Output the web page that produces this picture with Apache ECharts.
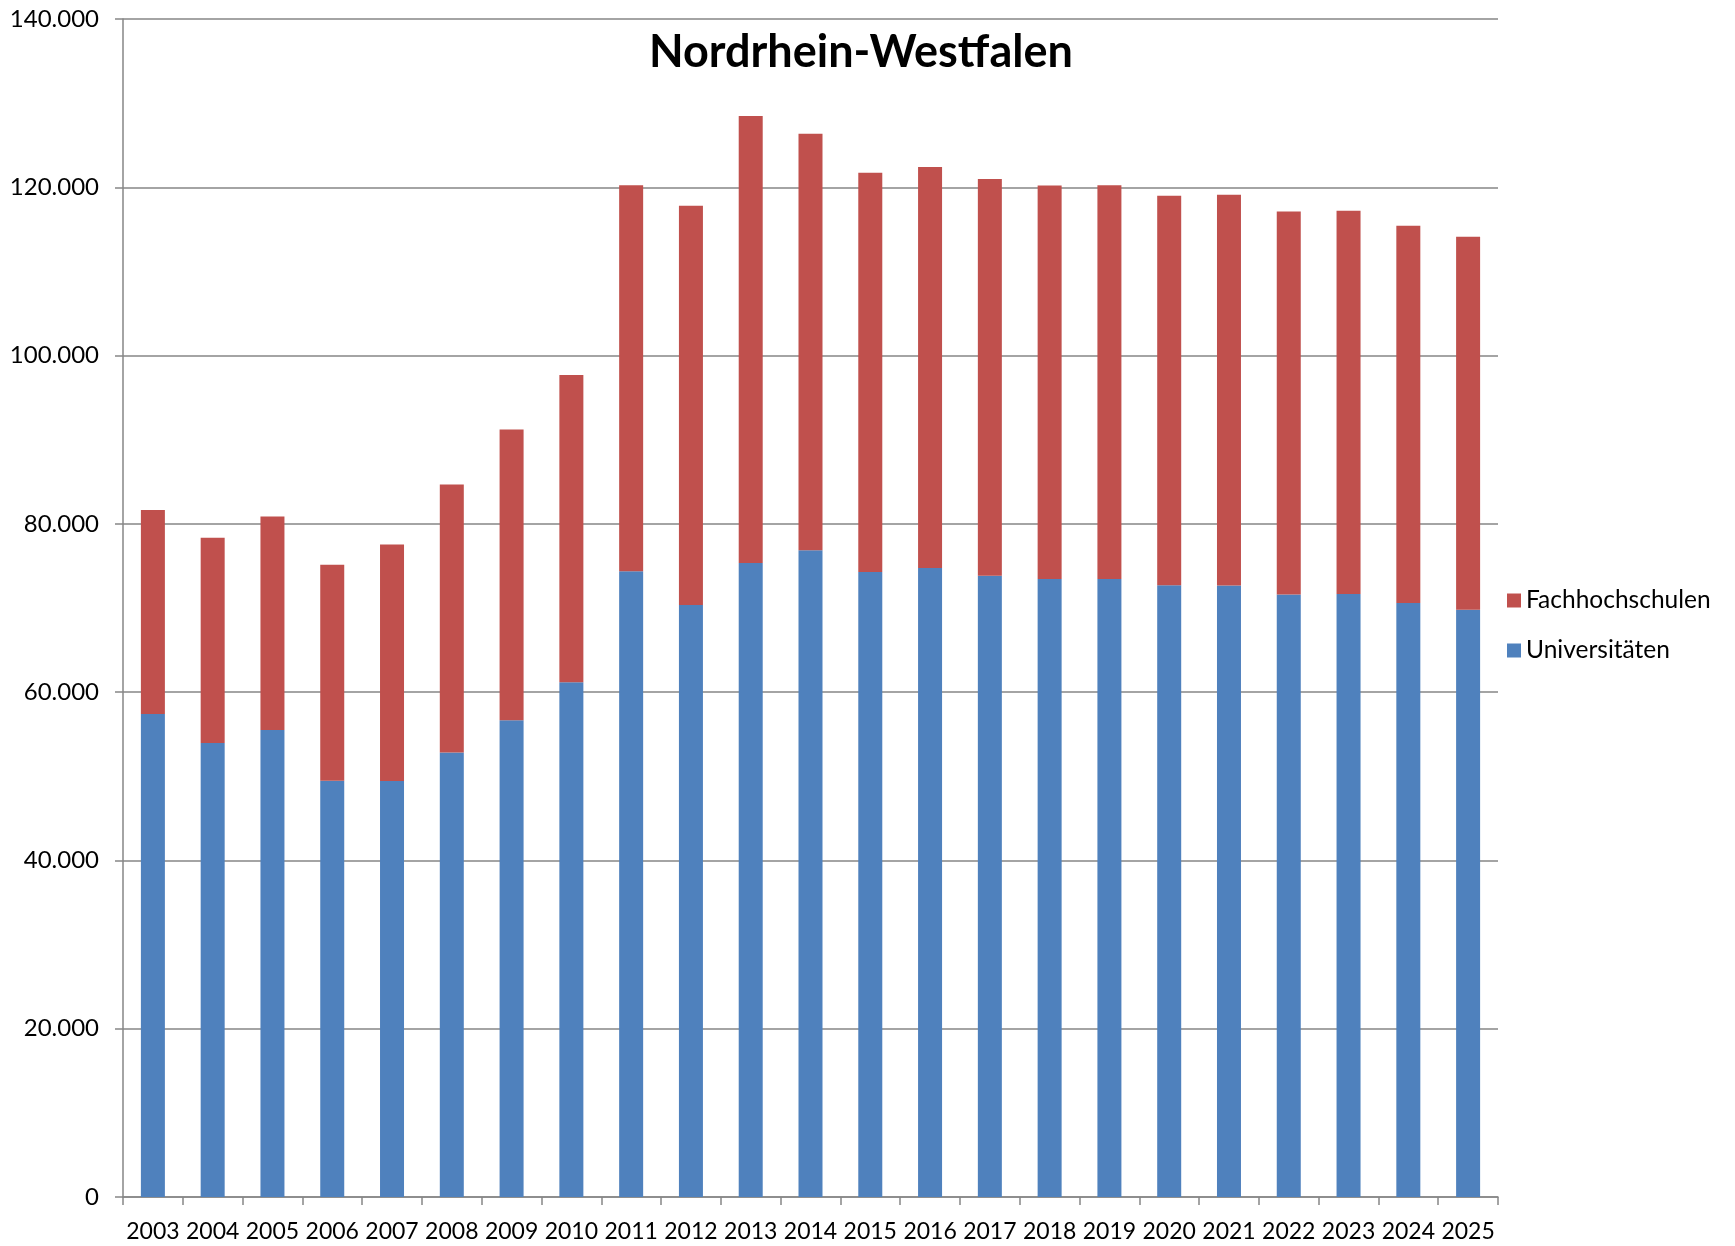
<!DOCTYPE html>
<html>
<head>
<meta charset="utf-8">
<title>Nordrhein-Westfalen</title>
<script src="https://cdn.jsdelivr.net/npm/echarts@6/dist/echarts.min.js"></script>
<style>
    html, body {margin: 0; padding: 0; background: #fff;}
    #chart {width: 1735px; height: 1246px;}
</style>
</head>
<body>
<div id="chart"></div>
<script>
// Jahre (x-Achse)
var years = ['2003', '2004', '2005', '2006', '2007', '2008', '2009', '2010', '2011', '2012', '2013', '2014',
    '2015', '2016', '2017', '2018', '2019', '2020', '2021', '2022', '2023', '2024', '2025'];

// Universitäten (unterer Teil)
var universitaeten = [57400, 53950, 55490, 49470, 49430, 52830, 56670, 61190, 74370, 70350, 75340, 76870,
    74290, 74750, 73820, 73440, 73440, 72700, 72670, 71610, 71650, 70590, 69790];

// Fachhochschulen (oberer Teil)
var fachhochschulen = [24240, 24390, 25380, 25660, 28110, 31840, 34530, 36510, 45880, 47450, 53120, 49480,
    47450, 47660, 47150, 46770, 46810, 46300, 46440, 45510, 45550, 44830, 44320];

var yTicks = [0, 20000, 40000, 60000, 80000, 100000, 120000, 140000];

var myChart = echarts.init(document.getElementById('chart'));
var gray = '#868686';
var font = 'Lato';

// 140000 -> "140.000"
function fmt(v) {
    return String(v).replace(/\B(?=(\d{3})+(?!\d))/g, '.');
}

var option = {
    backgroundColor: '#fff',
    animation: false,
    title: {
        text: 'Nordrhein-Westfalen',
        left: 644,
        top: 25,
        textStyle: {fontFamily: font, fontWeight: 'bold', fontSize: 45, color: '#000'}
    },
    legend: {
        orient: 'vertical',
        left: 1502,
        top: 583,
        itemWidth: 14,
        itemHeight: 14,
        itemGap: 25,
        icon: 'rect',
        data: ['Fachhochschulen', 'Universitäten'],
        textStyle: {fontFamily: font, fontSize: 24.5, color: '#000'}
    },
    grid: {
        left: 123,
        right: 237,
        top: 19,
        bottom: 49,
        containLabel: false,
        outerBoundsMode: 'none'
    },
    xAxis: {
        type: 'category',
        data: years,
        axisLine: {lineStyle: {color: gray, width: 1.5}},
        axisTick: {show: true, length: 8, alignWithLabel: false, lineStyle: {color: gray, width: 1.5}},
        axisLabel: {fontFamily: font, fontSize: 23, color: '#000', margin: 23, interval: 0}
    },
    yAxis: {
        type: 'value',
        min: yTicks[0],
        max: yTicks[yTicks.length - 1],
        interval: yTicks[1] - yTicks[0],
        axisLine: {show: true, lineStyle: {color: gray, width: 1.5}},
        axisTick: {show: true, length: 8, lineStyle: {color: gray, width: 1.5}},
        splitLine: {lineStyle: {color: gray, width: 1.5}},
        axisLabel: {
            fontFamily: font, fontSize: 24, color: '#000', margin: 24,
            formatter: function (v) { return fmt(v); }
        }
    },
    series: [{
        name: 'Universitäten',
        type: 'bar',
        stack: 'gesamt',
        barWidth: 24,
        data: universitaeten,
        itemStyle: {color: '#4F81BD'}
    }, {
        name: 'Fachhochschulen',
        type: 'bar',
        stack: 'gesamt',
        barWidth: 24,
        data: fachhochschulen,
        itemStyle: {color: '#C0504D'}
    }]
};

option && myChart.setOption(option);
</script>
</body>
</html>
